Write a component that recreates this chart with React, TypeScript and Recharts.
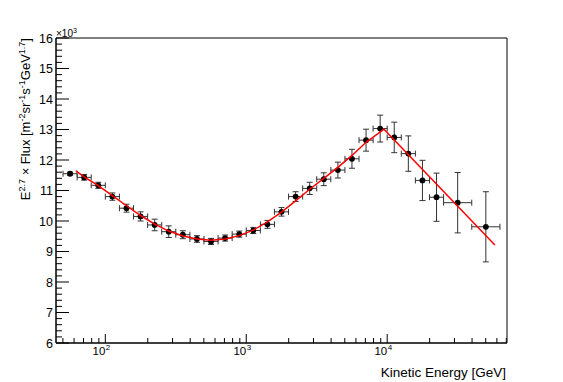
import React from 'react';
import { ComposedChart, Scatter, XAxis, YAxis, ErrorBar, ReferenceArea } from 'recharts';

// Kinetic energy bin centres [GeV]
const energy = [56.2, 70.8, 89.1, 112.2, 141.3, 177.8, 223.9, 281.8, 354.8, 446.7, 562.3, 707.9, 891.3, 1122, 1413, 1778, 2239, 2818, 3548, 4467, 5623, 7079, 8913, 11220, 14125, 17783, 22387, 31623, 50119];
const binLow = [50.1, 63.1, 79.4, 100, 125.9, 158.5, 199.5, 251.2, 316.2, 398.1, 501.2, 631, 794.3, 1000, 1259, 1585, 1995, 2512, 3162, 3981, 5012, 6310, 7943, 10000, 12589, 15849, 19953, 25119, 39811];
const binHigh = [63.1, 79.4, 100, 125.9, 158.5, 199.5, 251.2, 316.2, 398.1, 501.2, 631, 794.3, 1000, 1259, 1585, 1995, 2512, 3162, 3981, 5012, 6310, 7943, 10000, 12589, 15849, 19953, 25119, 39811, 63096];
// E^2.7 x Flux (x10^3)
const flux = [11.55, 11.43, 11.17, 10.80, 10.42, 10.15, 9.87, 9.65, 9.55, 9.41, 9.33, 9.44, 9.57, 9.69, 9.89, 10.30, 10.80, 11.07, 11.37, 11.67, 12.04, 12.65, 13.03, 12.74, 12.21, 11.33, 10.78, 10.60, 9.81];
const fluxErr = [0.05, 0.09, 0.10, 0.12, 0.13, 0.15, 0.19, 0.19, 0.13, 0.11, 0.10, 0.10, 0.10, 0.10, 0.13, 0.14, 0.16, 0.20, 0.21, 0.26, 0.31, 0.36, 0.44, 0.50, 0.58, 0.66, 0.79, 0.99, 1.15];

// Fit curve
const fitEnergy = [61.7, 70.8, 89.1, 112.2, 141.3, 177.8, 223.9, 281.8, 354.8, 446.7, 562.3, 707.9, 891.3, 1122, 1413, 1778, 2239, 2818, 3548, 4467, 5623, 7079, 9484, 58076];
const fitValue = [11.64, 11.45, 11.16, 10.83, 10.50, 10.18, 9.90, 9.67, 9.51, 9.41, 9.37, 9.41, 9.52, 9.70, 9.97, 10.29, 10.66, 11.04, 11.40, 11.76, 12.15, 12.58, 13.01, 9.21];

// Axis ticks
const xMajorTicks = [100, 1000, 10000];
const xDomain = [44.67, 70795];
const yMajorTicks = [6, 7, 8, 9, 10, 11, 12, 13, 14, 15, 16];
const yDomain = [6, 16];

const xTicks: number[] = [];
[10, 100, 1000, 10000].forEach((d) => {
  for (let m = 1; m <= 9; m++) {
    const v = m * d;
    if (v >= xDomain[0] && v <= xDomain[1]) xTicks.push(v);
  }
});
const yTicks: number[] = [];
for (let i = 0; i <= 50; i++) yTicks.push(Math.round((6 + i * 0.2) * 10) / 10);

const data = energy.map((e, i) => ({
  x: e,
  y: flux[i],
  ex: [e - binLow[i], binHigh[i] - e],
  ey: fluxErr[i],
}));
const fitData = fitEnergy.map((e, i) => ({ x: e, y: fitValue[i] }));

const FONT = '"Liberation Sans", Arial, Helvetica, sans-serif';

const XTick = (props: any) => {
  const { x, y, payload } = props;
  const v = payload.value;
  const major = xMajorTicks.includes(v);
  const exp = Math.round(Math.log10(v));
  return (
    <g>
      <line x1={x} x2={x} y1={y} y2={y - (major ? 9 : 5)} stroke="#000" strokeWidth={1} />
      {major && (
        <g fontFamily={FONT} fill="#000">
          <text x={x} y={y + 12} fontSize={11.5} textAnchor="end">10</text>
          <text x={x + 0.5} y={y + 6.5} fontSize={8} textAnchor="start">{exp}</text>
        </g>
      )}
    </g>
  );
};

const YTick = (props: any) => {
  const { x, y, payload } = props;
  const v = payload.value;
  const major = yMajorTicks.includes(v);
  return (
    <g>
      <line x1={x} x2={x + (major ? 13 : 6)} y1={y} y2={y} stroke="#000" strokeWidth={1} />
      {major && (
        <text x={x - 3} y={y + 4.5} fontSize={12.5} fontFamily={FONT} textAnchor="end" fill="#000">
          {v}
        </text>
      )}
    </g>
  );
};

const NoShape = () => <g />;

const Dot = (props: any) => {
  const { cx, cy } = props;
  return <circle cx={cx} cy={cy} r={2.9} fill="#000" />;
};

export default function App() {
  return (
    <div style={{ position: 'absolute', left: 0, top: 0, width: 563, height: 382, background: '#fff' }}>
      <ComposedChart
        width={563}
        height={382}
        margin={{ top: 38, right: 56, bottom: 9, left: 16 }}
        data={data}
      >
        <XAxis
          dataKey="x"
          type="number"
          scale="log"
          domain={xDomain}
          allowDataOverflow
          ticks={xTicks}
          interval={0}
          tickSize={0}
          tickMargin={0}
          tick={<XTick />}
          tickLine={false}
          axisLine={{ stroke: '#000' }}
          height={30}
        />
        <YAxis
          dataKey="y"
          type="number"
          domain={yDomain}
          allowDataOverflow
          ticks={yTicks}
          interval={0}
          tickSize={0}
          tickMargin={0}
          tick={<YTick />}
          tickLine={false}
          axisLine={{ stroke: '#000' }}
          width={40}
        />
        <ReferenceArea
          x1={xDomain[0]}
          x2={xDomain[1]}
          y1={yDomain[0]}
          y2={yDomain[1]}
          fill="none"
          fillOpacity={0}
          stroke="#000"
          strokeWidth={1}
          ifOverflow="visible"
        />
        <Scatter data={data} dataKey="y" shape={<Dot />} isAnimationActive={false}>
          <ErrorBar dataKey="ex" direction="x" width={3} stroke="#333" strokeWidth={1} isAnimationActive={false} />
          <ErrorBar dataKey="ey" direction="y" width={3} stroke="#333" strokeWidth={1} isAnimationActive={false} />
        </Scatter>
        <Scatter
          data={fitData}
          dataKey="y"
          shape={<NoShape />}
          line={{ stroke: '#ff0000', strokeWidth: 1.5 }}
          lineType="joint"
          isAnimationActive={false}
        />
      </ComposedChart>
      <svg
        width={563}
        height={382}
        style={{ position: 'absolute', left: 0, top: 0, pointerEvents: 'none' }}
        fontFamily={FONT}
      >
        <text x={56} y={36.5} fontSize={10}>
          ×10
          <tspan dy={-4} fontSize={7}>3</tspan>
        </text>
        <text x={506} y={377} fontSize={13.5} textAnchor="end">Kinetic Energy [GeV]</text>
        <text transform="translate(29.5,38) rotate(-90)" x={0} y={0} fontSize={13} textAnchor="end">
          E<tspan dy={-5} fontSize={9}>2.7</tspan>
          <tspan dy={5}> × Flux [m</tspan>
          <tspan dy={-5} fontSize={9}>-2</tspan>
          <tspan dy={5}>sr</tspan>
          <tspan dy={-5} fontSize={9}>-1</tspan>
          <tspan dy={5}>s</tspan>
          <tspan dy={-5} fontSize={9}>-1</tspan>
          <tspan dy={5}>GeV</tspan>
          <tspan dy={-5} fontSize={9}>1.7</tspan>
          <tspan dy={5}>]</tspan>
        </text>
      </svg>
    </div>
  );
}
